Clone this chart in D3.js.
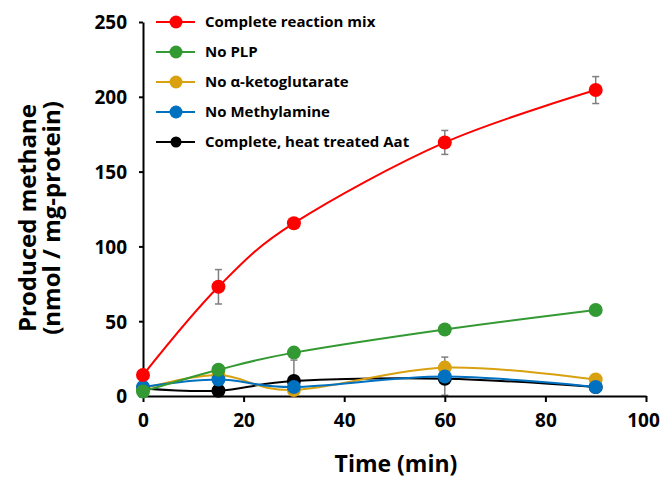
<!DOCTYPE html>
<html lang="en">
<head>
<meta charset="UTF-8">
<title>Produced methane</title>
<script src="https://d3js.org/d3.v7.min.js"></script>
<style>
    body { margin: 0; background: #fff; }
    svg { font-family: "Open Sans", Lato, sans-serif; font-weight: bold; }
</style>
</head>
<body>
<script>
// time points (min)
const times = [0, 15, 30, 60, 90];

// series values
const seriesNames = ["Complete reaction mix", "No PLP", "No \u03b1-ketoglutarate", "No Methylamine", "Complete, heat treated Aat"];
const seriesColors = ["#ff0000", "#339933", "#d9a010", "#0070c0", "#000000"];
const completeMix = [14, 73, 115.5, 169.5, 204.5];
const noPLP = [3, 17.5, 29, 44.5, 57.5];
const noKetoglutarate = [5, 14, 4, 19, 11];
const noMethylamine = [6, 11, 6, 13, 6];
const heatTreated = [5, 3.5, 10, 11.5, 6];

// error bars (+/-)
const completeMixErr = [0, 11.5, 3, 8, 9];
const noKetoErr = [0, 0, 0, 7, 0];
const heatTreatedErr = [0, 0, 14, 11, 0];

const xTicks = [0, 20, 40, 60, 80, 100];
const yTicks = [0, 50, 100, 150, 200, 250];

const series = [
    { name: seriesNames[4], color: seriesColors[4], values: heatTreated, err: heatTreatedErr },
    { name: seriesNames[2], color: seriesColors[2], values: noKetoglutarate, err: noKetoErr },
    { name: seriesNames[3], color: seriesColors[3], values: noMethylamine, err: null },
    { name: seriesNames[1], color: seriesColors[1], values: noPLP, err: null },
    { name: seriesNames[0], color: seriesColors[0], values: completeMix, err: completeMixErr }
];

const width = 661, height = 481;

const svg = d3.select("body").append("svg")
    .attr("width", width)
    .attr("height", height);

const x = d3.scaleLinear().domain([0, 100]).range([143, 646]);
const y = d3.scaleLinear().domain([0, 250]).range([396, 22]);

// error bars first (behind markers)
const errG = svg.append("g");
series.forEach(s => {
    if (!s.err) return;
    s.values.forEach((v, i) => {
        const e = s.err[i];
        if (!e) return;
        const lo = Math.max(0, v - e), hi = v + e;
        const cx = x(times[i]);
        errG.append("line").attr("x1", cx).attr("x2", cx)
            .attr("y1", y(lo)).attr("y2", y(hi))
            .attr("stroke", "#7f7f7f").attr("stroke-width", 1.5);
        [lo, hi].forEach(b => {
            errG.append("line").attr("x1", cx - 3.5).attr("x2", cx + 3.5)
                .attr("y1", y(b)).attr("y2", y(b))
                .attr("stroke", "#7f7f7f").attr("stroke-width", 1.5);
        });
    });
});

// axes
const xAxis = svg.append("g")
    .attr("transform", `translate(0, ${y(0)})`)
    .call(d3.axisBottom(x).tickValues(xTicks).tickSize(6).tickPadding(12).tickSizeOuter(0));
const yAxis = svg.append("g")
    .attr("transform", `translate(${x(0)}, 0)`)
    .call(d3.axisLeft(y).tickValues(yTicks).tickSize(4).tickPadding(12).tickSizeOuter(0));

[xAxis, yAxis].forEach(a => {
    a.select(".domain").attr("stroke", "#000").attr("stroke-width", 2);
    a.selectAll(".tick line").attr("stroke", "#000").attr("stroke-width", 2);
    a.selectAll(".tick text").attr("fill", "#000")
        .style("font-size", "19px").style("font-family", "'Open Sans', sans-serif").style("font-weight", "bold");
});
yAxis.selectAll(".tick text").attr("dy", "0.36em");
// keep "100" inside the frame
xAxis.selectAll(".tick text").filter(d => d === 100).attr("dx", -3);

// smoothed lines
const line = d3.line()
    .x((d, i) => x(times[i]))
    .y(d => y(d))
    .curve(d3.curveCatmullRom.alpha(0));

series.forEach(s => {
    svg.append("path")
        .datum(s.values)
        .attr("fill", "none")
        .attr("stroke", s.color)
        .attr("stroke-width", 2)
        .attr("d", line);
    svg.append("g").selectAll("circle")
        .data(s.values)
        .join("circle")
        .attr("cx", (d, i) => x(times[i]))
        .attr("cy", d => y(d))
        .attr("r", 7)
        .attr("fill", s.color);
});

// legend
const legend = svg.append("g").attr("transform", "translate(156, 22)");
seriesNames.forEach((name, i) => {
    const g = legend.append("g").attr("transform", `translate(0, ${i * 30})`);
    g.append("line").attr("x1", 0).attr("x2", 39).attr("y1", 0).attr("y2", 0)
        .attr("stroke", seriesColors[i]).attr("stroke-width", 2);
    g.append("circle").attr("cx", 20).attr("cy", 0).attr("r", i === 4 ? 5.5 : 6.5)
        .attr("fill", seriesColors[i]);
    g.append("text").attr("x", 49).attr("y", 0).attr("dy", "0.35em")
        .style("font-size", "15px")
        .text(name);
});

// axis titles
svg.append("text")
    .attr("x", 396).attr("y", 472)
    .attr("text-anchor", "middle")
    .style("font-size", "23px")
    .text("Time (min)");

const yTitle = svg.append("text")
    .attr("transform", "translate(0, 218) rotate(-90)")
    .attr("text-anchor", "middle")
    .style("font-size", "24px");
yTitle.append("tspan").attr("x", 0).attr("y", 36).text("Produced methane");
yTitle.append("tspan").attr("x", 0).attr("y", 60).text("(nmol / mg-protein)");
</script>
</body>
</html>
